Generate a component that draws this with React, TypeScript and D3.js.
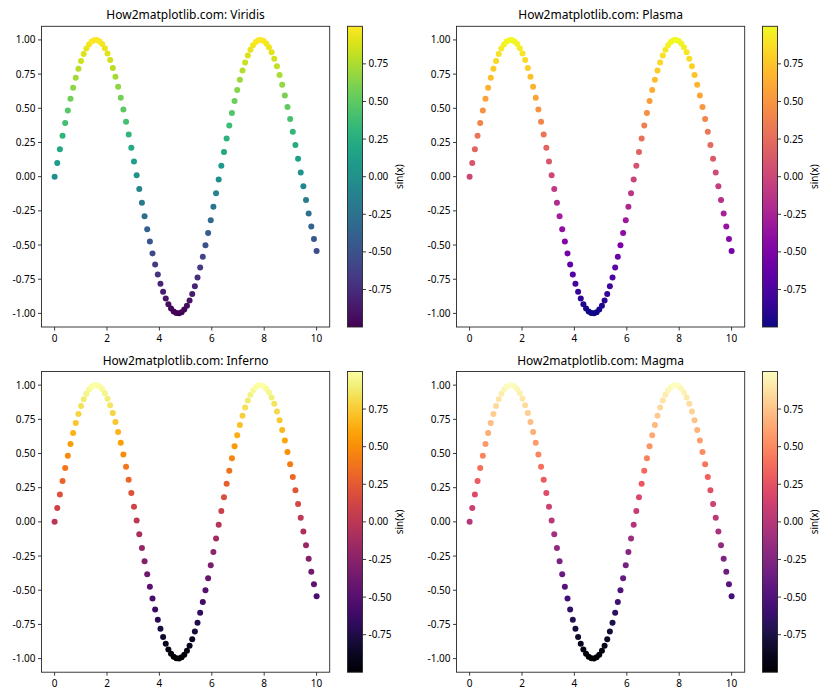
import React from "react";
import * as d3 from "d3";

const xValues = [
  0, 0.101, 0.202, 0.303, 0.404, 0.505, 0.606, 0.707, 0.808, 0.909,
  1.010, 1.111, 1.212, 1.313, 1.414, 1.515, 1.616, 1.717, 1.818, 1.919,
  2.020, 2.121, 2.222, 2.323, 2.424, 2.525, 2.626, 2.727, 2.828, 2.929,
  3.030, 3.131, 3.232, 3.333, 3.434, 3.535, 3.636, 3.737, 3.838, 3.939,
  4.040, 4.141, 4.242, 4.343, 4.444, 4.545, 4.646, 4.747, 4.848, 4.949,
  5.051, 5.152, 5.253, 5.354, 5.455, 5.556, 5.657, 5.758, 5.859, 5.960,
  6.061, 6.162, 6.263, 6.364, 6.465, 6.566, 6.667, 6.768, 6.869, 6.970,
  7.071, 7.172, 7.273, 7.374, 7.475, 7.576, 7.677, 7.778, 7.879, 7.980,
  8.081, 8.182, 8.283, 8.384, 8.485, 8.586, 8.687, 8.788, 8.889, 8.990,
  9.091, 9.192, 9.293, 9.394, 9.495, 9.596, 9.697, 9.798, 9.899, 10.0,
];

const yValues = [
  0, 0.1008, 0.2007, 0.2984, 0.3931, 0.4839, 0.5696, 0.6496, 0.7229, 0.7888,
  0.8468, 0.8962, 0.9366, 0.9672, 0.9878, 0.9984, 0.999, 0.9893, 0.9696, 0.9399,
  0.9007, 0.8523, 0.7953, 0.7301, 0.6574, 0.5777, 0.4919, 0.4025, 0.3082, 0.2107,
  0.1111, 0.0103, -0.0906, -0.1906, -0.2886, -0.3837, -0.4749, -0.5611, -0.6417, -0.7158,
  -0.7825, -0.8414, -0.8915, -0.9327, -0.9643, -0.9861, -0.9978, -0.9994, -0.9908, -0.972,
  -0.9434, -0.9051, -0.8577, -0.8016, -0.737, -0.6651, -0.5862, -0.5009, -0.412, -0.318,
  -0.2208, -0.1213, -0.0206, 0.0803, 0.1804, 0.2787, 0.3742, 0.4658, 0.5527, 0.6339,
  0.7085, 0.7761, 0.8358, 0.8869, 0.9288, 0.9615, 0.9842, 0.9971, 0.9997, 0.9921,
  0.9744, 0.9467, 0.9095, 0.8629, 0.8076, 0.744, 0.6727, 0.5945, 0.5102, 0.4213,
  0.3277, 0.2308, 0.1315, 0.0309, -0.07, -0.1704, -0.2688, -0.3646, -0.4567, -0.544,
];

const panelTitles = [
  "How2matplotlib.com: Viridis",
  "How2matplotlib.com: Plasma",
  "How2matplotlib.com: Inferno",
  "How2matplotlib.com: Magma",
];
const panelMaps = [
  d3.interpolateViridis,
  d3.interpolatePlasma,
  d3.interpolateInferno,
  d3.interpolateMagma,
];
const xTicks = [0, 2, 4, 6, 8, 10];
const yTicks = [-1.0, -0.75, -0.5, -0.25, 0.0, 0.25, 0.5, 0.75, 1.0];
const cbTicks = [-0.75, -0.5, -0.25, 0.0, 0.25, 0.5, 0.75];
const cbLabel = "sin(x)";

const W = 840;
const H = 700;
const FONT = "'Noto Sans', 'DejaVu Sans', sans-serif";
const TICK_FS = 10;
const TITLE_FS = 12;

const colLeft = [41.5, 456.5];
const rowTop = [26.3, 371.5];
const AX_W = 288.2;
const AX_H = 300.7;
const CB_OFF = 17.8;
const CB_W = 15;

function fmt(v: number) {
  return v.toFixed(2).replace("-", "\u2212").replace("\u2212", "-");
}

function Panel({ idx }: { idx: number }) {
  const col = idx % 2;
  const row = Math.floor(idx / 2);
  const L = colLeft[col];
  const T = rowTop[row];
  const R = L + AX_W;
  const B = T + AX_H;
  const xMin = d3.min(xValues)!;
  const xMax = d3.max(xValues)!;
  const yMin = d3.min(yValues)!;
  const yMax = d3.max(yValues)!;
  const xPad = (xMax - xMin) * 0.05;
  const yPad = (yMax - yMin) * 0.05;
  const x = d3.scaleLinear().domain([xMin - xPad, xMax + xPad]).range([L, R]);
  const y = d3.scaleLinear().domain([yMin - yPad, yMax + yPad]).range([B, T]);
  const interp = panelMaps[idx];
  const color = d3.scaleSequential(interp).domain([yMin, yMax]);
  const cbL = R + CB_OFF;
  const cbR = cbL + CB_W;
  const cbY = d3.scaleLinear().domain([yMin, yMax]).range([B, T]);
  const gid = `cbgrad${idx}`;
  const stops = d3.range(0, 1.0001, 0.05);
  return (
    <g>
      <defs>
        <linearGradient id={gid} x1="0" y1="1" x2="0" y2="0">
          {stops.map((s, i) => (
            <stop key={i} offset={s} stopColor={interp(s)} />
          ))}
        </linearGradient>
      </defs>
      <text
        x={(L + R) / 2}
        y={T - 7}
        textAnchor="middle"
        fontSize={TITLE_FS}
        fontFamily={FONT}
        fill="#000"
      >
        {panelTitles[idx]}
      </text>
      {xValues.map((xv, i) => (
        <circle key={i} cx={x(xv)} cy={y(yValues[i])} r={3} fill={color(yValues[i])} />
      ))}
      <rect x={L} y={T} width={AX_W} height={AX_H} fill="none" stroke="#262626" strokeWidth={0.9} />
      {xTicks.map((t) => (
        <g key={t}>
          <line x1={x(t)} x2={x(t)} y1={B} y2={B + 3.5} stroke="#262626" strokeWidth={0.9} />
          <text x={x(t)} y={B + 15} textAnchor="middle" fontSize={TICK_FS} fontFamily={FONT} fill="#000">
            {t}
          </text>
        </g>
      ))}
      {yTicks.map((t) => (
        <g key={t}>
          <line x1={L - 3.5} x2={L} y1={y(t)} y2={y(t)} stroke="#262626" strokeWidth={0.9} />
          <text
            x={L - 6}
            y={y(t)}
            dy="0.35em"
            textAnchor="end"
            fontSize={TICK_FS}
            fontFamily={FONT}
            fill="#000"
          >
            {fmt(t)}
          </text>
        </g>
      ))}
      <rect x={cbL} y={T} width={CB_W} height={AX_H} fill={`url(#${gid})`} />
      <rect x={cbL} y={T} width={CB_W} height={AX_H} fill="none" stroke="#262626" strokeWidth={0.9} />
      {cbTicks.map((t) => (
        <g key={t}>
          <line x1={cbR} x2={cbR + 3.5} y1={cbY(t)} y2={cbY(t)} stroke="#262626" strokeWidth={0.9} />
          <text x={cbR + 6} y={cbY(t)} dy="0.35em" fontSize={TICK_FS} fontFamily={FONT} fill="#000">
            {fmt(t)}
          </text>
        </g>
      ))}
      <text
        transform={`translate(${cbR + 40},${(T + B) / 2}) rotate(-90)`}
        textAnchor="middle"
        fontSize={TICK_FS}
        fontFamily={FONT}
        fill="#000"
      >
        {cbLabel}
      </text>
    </g>
  );
}

export default function App() {
  return (
    <svg
      width={W}
      height={H}
      style={{ position: "absolute", left: 0, top: 0, background: "#fff" }}
    >
      <rect x={0} y={0} width={W} height={H} fill="#fff" />
      {[0, 1, 2, 3].map((i) => (
        <Panel key={i} idx={i} />
      ))}
    </svg>
  );
}
